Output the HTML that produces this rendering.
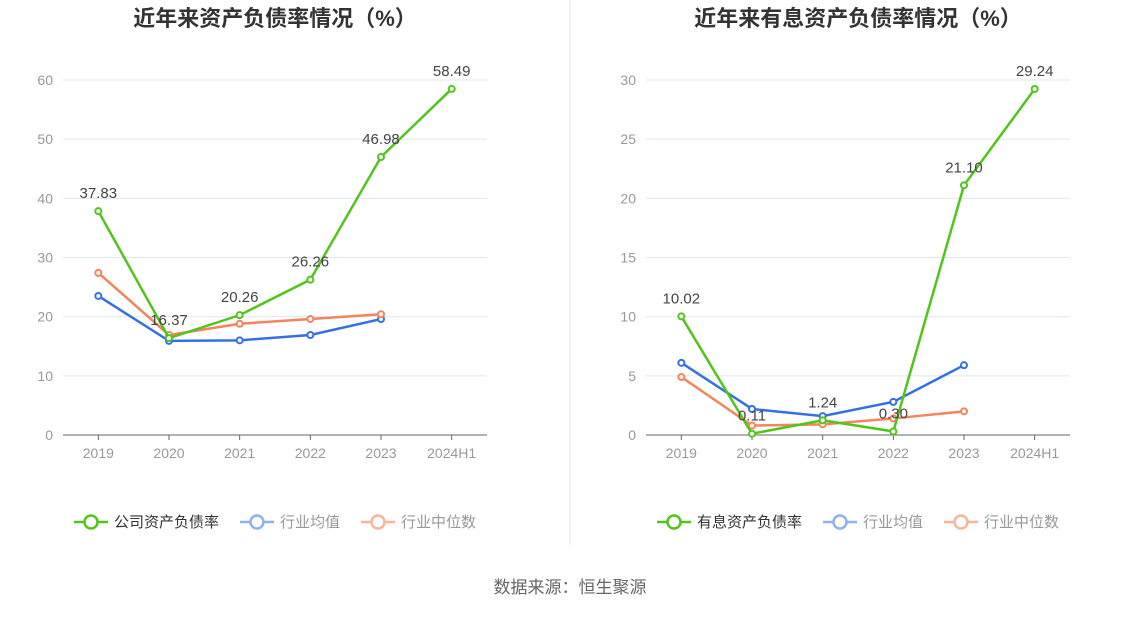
<!DOCTYPE html>
<html><head><meta charset="utf-8">
<style>
body{margin:0;background:#fff;font-family:"Liberation Sans","Noto Sans CJK SC",sans-serif;}
svg text{font-family:"Liberation Sans","Noto Sans CJK SC",sans-serif;}
</style></head>
<body>
<svg id="chart" width="1134" height="612" viewBox="0 0 1134 612" xmlns="http://www.w3.org/2000/svg">
<rect width="1134" height="612" fill="#fff"/>
<line x1="570" y1="0" x2="570" y2="545" stroke="#e8e8e8"/>
<text x="570" y="593" text-anchor="middle" font-size="17" fill="#666">数据来源：恒生聚源</text>
</svg>
<script>
const categories=["2019","2020","2021","2022","2023","2024H1"];
const leftCompany=[37.83,16.37,20.26,26.26,46.98,58.49];
const leftAvg=[23.5,15.9,16.0,16.9,19.6];
const leftMedian=[27.4,16.9,18.8,19.6,20.4];
const leftTicks=[0,10,20,30,40,50,60];
const rightCompany=[10.02,0.11,1.24,0.30,21.10,29.24];
const rightAvg=[6.1,2.2,1.6,2.8,5.9];
const rightMedian=[4.9,0.8,0.9,1.4,2.0];
const rightTicks=[0,5,10,15,20,25,30];

const svg=document.getElementById('chart');
const NS="http://www.w3.org/2000/svg";
function mk(tag,attrs,parent){const e=document.createElementNS(NS,tag);for(const k in attrs)e.setAttribute(k,attrs[k]);(parent||svg).appendChild(e);return e;}

function drawChart(o){
  const g=mk('g',{});
  
  
  const x0=o.left,x1=o.right,yb=435,yt=80;
  const maxT=o.ticks[o.ticks.length-1];
  const step=(x1-x0)/categories.length;
  const xs=i=>x0+step*(i+0.5);
  const ys=v=>yb-(v/maxT)*(yb-yt);
  const t=mk('text',{x:(x0+x1)/2,y:26,'text-anchor':'middle','font-size':22,'font-weight':'bold',fill:'#333'},g);
  t.textContent=o.title;
  
  
  o.ticks.forEach(v=>{
    if(v>0){const l=mk('line',{x1:x0,x2:x1,y1:ys(v),y2:ys(v),stroke:'#e0e6f1'},g);
      }
    const tl=mk('text',{x:x0-10,y:ys(v)+5,'text-anchor':'end','font-size':14,fill:'#999'},g);
    tl.textContent=v;
    
  });
  const ax=mk('line',{x1:x0,x2:x1,y1:yb,y2:yb,stroke:'#666'},g);
  
  categories.forEach((c,i)=>{
    mk('line',{x1:xs(i),x2:xs(i),y1:yb,y2:yb+5,stroke:'#666'},g);
    const tl=mk('text',{x:xs(i),y:yb+23,'text-anchor':'middle','font-size':14,fill:'#999'},g);
    tl.textContent=c;
    
  });
  const series=[[o.avg,'#3370e6','industry-average'],[o.median,'#f5845c','industry-median'],[o.company,'#52c41a','company-ratio']];
  series.forEach(([d,col,nm])=>{
    const p=mk('polyline',{points:d.map((v,i)=>xs(i)+','+ys(v)).join(' '),fill:'none',stroke:col,'stroke-width':2.5},g);
    
    d.forEach((v,i)=>{
      const c=mk('circle',{cx:xs(i),cy:ys(v),r:3,fill:'#fff',stroke:col,'stroke-width':2},g);
      
    });
  });
  o.company.forEach((v,i)=>{
    const l=mk('text',{x:xs(i),y:ys(v)-13,'text-anchor':'middle','font-size':15,fill:'#444'},g);
    l.textContent=v.toFixed(2);
    
  });
  const lg=[[o.legend,'#52c41a','#333'],['行业均值','#8fb1f0','#999'],['行业中位数','#f9b59c','#999']];
  let lx=o.legendX;
  lg.forEach(([txt,col,tc])=>{
    const item=mk('g',{},g);
    
    mk('line',{x1:lx,x2:lx+34,y1:522,y2:522,stroke:col,'stroke-width':2.5},item);
    mk('circle',{cx:lx+17,cy:522,r:6.5,fill:'#fff',stroke:col,'stroke-width':2.5},item);
    const tt=mk('text',{x:lx+40,y:527,'font-size':15,fill:tc},item);
    tt.textContent=txt;
    lx+=40+txt.length*15+21;
  });
}
drawChart({name:'left-chart',left:63,right:487,ticks:leftTicks,company:leftCompany,avg:leftAvg,median:leftMedian,title:'近年来资产负债率情况（%）',legend:'公司资产负债率',legendX:74});
drawChart({name:'right-chart',left:646,right:1070,ticks:rightTicks,company:rightCompany,avg:rightAvg,median:rightMedian,title:'近年来有息资产负债率情况（%）',legend:'有息资产负债率',legendX:657});
</script>
</body></html>
